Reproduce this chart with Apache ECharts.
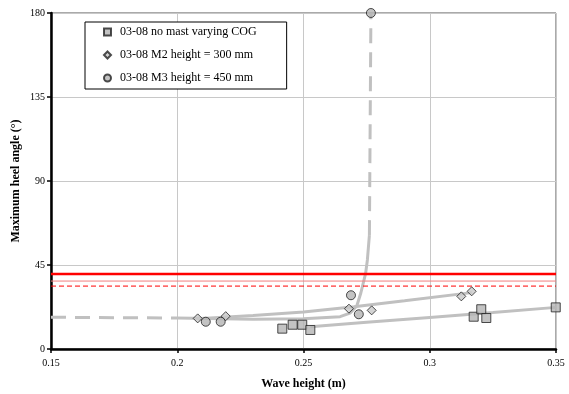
<!DOCTYPE html>
<html>
<head>
<meta charset="utf-8">
<script src="https://cdn.jsdelivr.net/npm/echarts@6/dist/echarts.min.js"></script>
<style>
  html, body { margin: 0; padding: 0; background: #fff; }
  #chart { width: 569px; height: 394px; }
</style>
</head>
<body>
<div id="chart"></div>
<script>
// measured points
const noMast = [[0.2416, 10.9], [0.2457, 13.0], [0.2495, 13.0], [0.2527, 10.2], [0.3174, 17.3], [0.3204, 21.3], [0.3224, 16.6], [0.3499, 22.3]];
const m2 = [[0.2081, 16.4], [0.2192, 17.6], [0.268, 21.6], [0.277, 20.7], [0.3125, 28.2], [0.3166, 30.9]];
const m3 = [[0.2113, 14.6], [0.2172, 14.6], [0.2688, 28.8], [0.2719, 18.6], [0.2767, 180]];

// trend lines
const noMastTrend = [[0.2527, 11.9], [0.275, 14.3], [0.3, 16.9], [0.325, 19.5], [0.35, 22.3]];
const m2Trend = [[0.2081, 16.2], [0.23, 18.0], [0.25, 19.8], [0.27, 22.6], [0.29, 25.8], [0.3166, 30.2]];
const m3TrendLeft = [[0.15, 17.0], [0.2, 16.6]];
const m3TrendMid = [[0.2, 16.6], [0.23, 16.0], [0.25, 16.2], [0.2645, 17.3], [0.2684, 19.2], [0.2711, 23.0], [0.2727, 30.0], [0.2746, 40.5], [0.2753, 47.7], [0.2761, 61.0]];
const m3TrendTop = [[0.2761, 61.0], [0.2767, 180]];

// horizontal limit lines
const limitX = [0.15, 0.35];
const limitThick = 40.2;
const limitThin = 36.4;
const limitDashed = 33.7;

const xTicks = [0.15, 0.2, 0.25, 0.3, 0.35];
const yTicks = [0, 45, 90, 135, 180];

const font = 'Liberation Serif';
const trendColor = '#c0c0c0';

const chart = echarts.init(document.getElementById('chart'));

function hline(y, color, width, type) {
  return {
    type: 'line',
    data: limitX.map(x => [x, y]),
    showSymbol: false,
    clip: false,
    silent: true,
    z: 3,
    lineStyle: { color: color, width: width, type: type }
  };
}

function trend(data, type) {
  return {
    type: 'line',
    data: data,
    showSymbol: false,
    silent: true,
    clip: false,
    z: 2,
    lineStyle: { color: trendColor, width: 3, type: type }
  };
}

const dash = [15, 9];

const option = {
  animation: false,
  backgroundColor: '#fff',
  grid: {
    left: 51,
    right: 13,
    top: 13,
    bottom: 45,
    outerBoundsMode: 'none',
    containLabel: false,
    show: true,
    borderColor: '#555',
    borderWidth: 1
  },
  legend: {
    orient: 'vertical',
    left: 85,
    top: 22,
    data: ['03-08 no mast varying COG', '03-08 M2 height = 300 mm', '03-08 M3 height = 450 mm'],
    itemWidth: 7,
    itemHeight: 7,
    itemGap: 9,
    padding: [3, 30, 4, 18],
    borderColor: '#000',
    borderWidth: 1,
    backgroundColor: '#fff',
    textStyle: { fontFamily: font, fontSize: 12, color: '#000', lineHeight: 14, padding: [0, 0, 0, 4] }
  },
  xAxis: {
    type: 'value',
    min: xTicks[0],
    max: xTicks[xTicks.length - 1],
    interval: 0.05,
    name: 'Wave height (m)',
    nameLocation: 'middle',
    nameGap: 29,
    nameTextStyle: { fontFamily: font, fontSize: 12, fontWeight: 'bold', color: '#000' },
    axisLine: { show: true, onZero: false, lineStyle: { color: '#000', width: 2.5 } },
    axisTick: { show: true, length: 4, lineStyle: { color: '#000', width: 1.5 } },
    axisLabel: {
      fontFamily: font, fontSize: 10, color: '#000', margin: 9,
      formatter: v => String(parseFloat(v.toFixed(2)))
    },
    splitLine: { show: true, lineStyle: { color: '#c8c8c8', width: 1 } }
  },
  yAxis: {
    type: 'value',
    min: yTicks[0],
    max: yTicks[yTicks.length - 1],
    interval: 45,
    name: 'Maximum heel angle (°)',
    nameLocation: 'middle',
    nameGap: 29,
    nameMoveOverlap: false,
    nameTextStyle: { fontFamily: font, fontSize: 12, fontWeight: 'bold', color: '#000' },
    axisLine: { show: true, lineStyle: { color: '#000', width: 2.5 } },
    axisTick: { show: true, length: 4, lineStyle: { color: '#000', width: 1.5 } },
    axisLabel: { fontFamily: font, fontSize: 10, color: '#000', margin: 6 },
    splitLine: { show: true, lineStyle: { color: '#c8c8c8', width: 1 } }
  },
  series: [
    hline(limitDashed, '#ff0000', 1, [5, 3]),
    hline(limitThin, '#f08080', 1, 'solid'),
    hline(limitThick, '#ff0000', 2.5, 'solid'),
    trend(noMastTrend, 'solid'),
    trend(m2Trend, 'solid'),
    trend(m3TrendLeft, dash),
    trend(m3TrendMid, 'solid'),
    trend(m3TrendTop, dash),
    {
      name: '03-08 no mast varying COG',
      type: 'scatter',
      symbol: 'rect',
      symbolSize: 9,
      data: noMast,
      clip: false,
      z: 5,
      itemStyle: { color: '#b4b4b4', borderColor: '#222', borderWidth: 1 }
    },
    {
      name: '03-08 M2 height = 300 mm',
      type: 'scatter',
      symbol: 'diamond',
      symbolSize: 9,
      data: m2,
      clip: false,
      z: 5,
      itemStyle: { color: '#c8c8c8', borderColor: '#222', borderWidth: 1 }
    },
    {
      name: '03-08 M3 height = 450 mm',
      type: 'scatter',
      symbol: 'circle',
      symbolSize: 9,
      data: m3,
      clip: false,
      z: 5,
      itemStyle: { color: '#b4b4b4', borderColor: '#222', borderWidth: 1 }
    }
  ]
};

chart.setOption(option);
window.addEventListener('resize', () => chart.resize());
</script>
</body>
</html>
